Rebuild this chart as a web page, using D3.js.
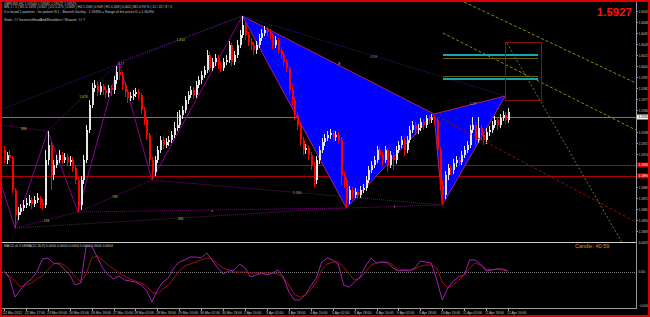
<!DOCTYPE html>
<html>
<head>
<meta charset="utf-8">
<script src="https://cdn.jsdelivr.net/npm/d3@7"></script>
<style>
html, body { margin: 0; padding: 0; background: #000; }
svg { display: block; font-family: "Liberation Sans", Arial, sans-serif; }
</style>
</head>
<body>
<div id="chart"></div>
<script>
// GBPUSD H1, one entry per candle (every candle ~ 2 hourly bars)
var firstOpen = 1.5920;

var closes = [
	1.5910,1.5915,1.5912,1.5880,1.5855,1.5858,1.5862,1.5865,1.5867,1.5870,
	1.5866,1.5870,1.5872,1.5867,1.5865,1.5910,1.5925,1.5895,1.5905,1.5910,
	1.5915,1.5910,1.5913,1.5908,1.5910,1.5902,1.5890,1.5865,1.5890,1.5910,
	1.5940,1.5965,1.5982,1.5985,1.5978,1.5984,1.5980,1.5977,1.5982,1.5980,
	1.5990,1.5998,1.5995,1.5985,1.5978,1.5972,1.5974,1.5976,1.5978,1.5975,
	1.5960,1.5950,1.5935,1.5910,1.5898,1.5910,1.5920,1.5930,1.5925,1.5928,
	1.5930,1.5935,1.5942,1.5945,1.5955,1.5960,1.5970,1.5975,1.5980,1.5975,
	1.5985,1.5990,1.5995,1.6000,1.6015,1.6002,1.6008,1.6012,1.6005,1.6002,
	1.6008,1.6010,1.6025,1.6008,1.6015,1.6025,1.6035,1.6045,1.6035,1.6028,
	1.6025,1.6020,1.6025,1.6032,1.6037,1.6040,1.6038,1.6035,1.6025,1.6030,
	1.6020,1.6015,1.6008,1.6002,1.5980,1.5970,1.5955,1.5945,1.5930,1.5920,
	1.5922,1.5915,1.5905,1.5890,1.5910,1.5920,1.5928,1.5932,1.5935,1.5937,
	1.5933,1.5935,1.5930,1.5895,1.5890,1.5870,1.5880,1.5875,1.5878,1.5875,
	1.5880,1.5882,1.5890,1.5900,1.5905,1.5910,1.5920,1.5915,1.5910,1.5920,
	1.5905,1.5915,1.5910,1.5920,1.5925,1.5930,1.5920,1.5930,1.5940,1.5945,
	1.5940,1.5942,1.5948,1.5945,1.5952,1.5950,1.5952,1.5950,1.5920,1.5885,
	1.5875,1.5895,1.5902,1.5900,1.5907,1.5910,1.5908,1.5915,1.5920,1.5925,
	1.5940,1.5945,1.5930,1.5942,1.5935,1.5930,1.5938,1.5940,1.5945,1.5950,
	1.5945,1.5952,1.5955,1.5950,1.5958
];

var highs = [
	1.5924,1.5918,1.5920,1.5914,1.5882,1.5863,1.5866,1.5870,1.5872,1.5875,
	1.5873,1.5874,1.5877,1.5874,1.5871,1.5920,1.5939,1.5928,1.5910,1.5915,
	1.5920,1.5918,1.5917,1.5916,1.5914,1.5913,1.5905,1.5893,1.5894,1.5915,
	1.5945,1.5970,1.5987,1.5990,1.5988,1.5988,1.5986,1.5983,1.5985,1.5985,
	1.5994,1.6004,1.6008,1.5998,1.5988,1.5981,1.5978,1.5980,1.5982,1.5981,
	1.5977,1.5963,1.5952,1.5937,1.5913,1.5914,1.5924,1.5934,1.5933,1.5932,
	1.5934,1.5939,1.5948,1.5958,1.5960,1.5964,1.5974,1.5979,1.5984,1.5983,
	1.5989,1.5994,1.5999,1.6004,1.6020,1.6018,1.6012,1.6016,1.6015,1.6008,
	1.6012,1.6015,1.6029,1.6027,1.6019,1.6030,1.6040,1.6054,1.6048,1.6038,
	1.6032,1.6028,1.6029,1.6036,1.6041,1.6044,1.6043,1.6041,1.6037,1.6034,
	1.6032,1.6023,1.6018,1.6011,1.6004,1.5984,1.5973,1.5958,1.5948,1.5933,
	1.5926,1.5925,1.5918,1.5908,1.5914,1.5924,1.5932,1.5936,1.5939,1.5941,
	1.5940,1.5939,1.5938,1.5933,1.5898,1.5893,1.5884,1.5883,1.5882,1.5881,
	1.5884,1.5886,1.5894,1.5904,1.5909,1.5914,1.5924,1.5923,1.5918,1.5924,
	1.5922,1.5919,1.5918,1.5924,1.5929,1.5934,1.5932,1.5934,1.5944,1.5949,
	1.5948,1.5946,1.5952,1.5951,1.5955,1.5955,1.5956,1.5956,1.5952,1.5923,
	1.5890,1.5899,1.5906,1.5905,1.5911,1.5914,1.5913,1.5919,1.5924,1.5929,
	1.5945,1.5953,1.5948,1.5953,1.5945,1.5938,1.5942,1.5944,1.5949,1.5954,
	1.5953,1.5956,1.5959,1.5958,1.5962
];

var lows = [
	1.5907,1.5906,1.5909,1.5877,1.5842,1.5850,1.5855,1.5859,1.5862,1.5864,
	1.5861,1.5863,1.5867,1.5862,1.5860,1.5862,1.5905,1.5880,1.5890,1.5902,
	1.5907,1.5906,1.5907,1.5904,1.5904,1.5898,1.5886,1.5858,1.5860,1.5886,
	1.5907,1.5937,1.5962,1.5978,1.5974,1.5975,1.5975,1.5972,1.5973,1.5974,
	1.5976,1.5986,1.5990,1.5980,1.5973,1.5967,1.5969,1.5970,1.5973,1.5971,
	1.5956,1.5945,1.5930,1.5905,1.5890,1.5894,1.5907,1.5917,1.5921,1.5922,
	1.5924,1.5927,1.5932,1.5939,1.5942,1.5951,1.5957,1.5966,1.5972,1.5971,
	1.5972,1.5982,1.5986,1.5992,1.5997,1.5998,1.5999,1.6004,1.6001,1.5998,
	1.5999,1.6005,1.6007,1.6004,1.6005,1.6012,1.6022,1.6032,1.6030,1.6024,
	1.6020,1.6015,1.6016,1.6022,1.6029,1.6034,1.6034,1.6031,1.6021,1.6022,
	1.6016,1.6011,1.6004,1.5998,1.5975,1.5965,1.5950,1.5940,1.5924,1.5915,
	1.5916,1.5910,1.5900,1.5883,1.5886,1.5906,1.5917,1.5924,1.5929,1.5931,
	1.5929,1.5929,1.5926,1.5885,1.5882,1.5862,1.5866,1.5871,1.5872,1.5871,
	1.5872,1.5877,1.5879,1.5887,1.5897,1.5902,1.5907,1.5910,1.5904,1.5907,
	1.5898,1.5902,1.5900,1.5906,1.5917,1.5922,1.5914,1.5917,1.5927,1.5937,
	1.5935,1.5936,1.5939,1.5940,1.5942,1.5946,1.5947,1.5944,1.5914,1.5880,
	1.5865,1.5871,1.5890,1.5895,1.5896,1.5903,1.5904,1.5905,1.5912,1.5917,
	1.5922,1.5937,1.5924,1.5927,1.5930,1.5925,1.5926,1.5934,1.5937,1.5942,
	1.5940,1.5942,1.5949,1.5946,1.5947
];

// MACD of DEMA, one value every second candle
var macdMain = [
	0.0001,-0.0006,-0.0025,-0.0018,-0.0011,-0.0007,0.0000,0.0013,0.0014,0.0009,
	0.0008,0.0003,-0.0003,-0.0013,-0.0011,0.0026,0.0026,0.0015,0.0004,-0.0003,
	-0.0007,-0.0004,-0.0008,-0.0009,-0.0010,-0.0013,-0.0018,-0.0030,-0.0018,-0.0010,
	-0.0006,0.0004,0.0010,0.0012,0.0015,0.0015,0.0014,0.0019,0.0012,0.0004,
	-0.0002,0.0001,0.0002,0.0008,0.0004,-0.0005,-0.0003,-0.0001,-0.0003,-0.0001,
	0.0002,-0.0005,-0.0020,-0.0028,-0.0028,-0.0023,-0.0014,-0.0006,0.0010,0.0014,
	0.0012,0.0008,-0.0013,-0.0015,-0.0010,-0.0005,0.0006,0.0014,0.0009,0.0010,
	0.0009,0.0004,0.0001,0.0002,0.0001,0.0004,0.0011,0.0010,0.0009,-0.0008,
	-0.0028,-0.0016,-0.0009,-0.0005,-0.0003,0.0012,0.0012,0.0008,0.0001,0.0002,
	0.0003,0.0003,0.0001
];
var macdSignal = [
	0.0000,-0.0004,-0.0009,-0.0015,-0.0013,-0.0011,-0.0007,-0.0004,0.0002,0.0008,
	0.0009,0.0007,0.0002,-0.0005,-0.0010,-0.0002,0.0014,0.0016,0.0012,0.0007,
	0.0003,-0.0001,-0.0004,-0.0007,-0.0009,-0.0011,-0.0014,-0.0020,-0.0022,-0.0017,
	-0.0013,-0.0006,0.0001,0.0006,0.0008,0.0010,0.0012,0.0014,0.0013,0.0008,
	0.0004,0.0002,0.0000,0.0000,0.0000,-0.0001,-0.0001,-0.0001,-0.0001,-0.0001,
	-0.0002,-0.0006,-0.0013,-0.0022,-0.0025,-0.0023,-0.0018,-0.0010,0.0002,0.0008,
	0.0010,0.0010,0.0005,-0.0002,-0.0008,-0.0006,0.0000,0.0007,0.0009,0.0010,
	0.0010,0.0007,0.0002,0.0002,0.0002,0.0003,0.0006,0.0007,0.0007,0.0004,
	-0.0010,-0.0016,-0.0013,-0.0008,-0.0003,0.0004,0.0009,0.0007,0.0003,0.0002,
	0.0003,0.0002,0.0001
];

// zigzag pivots (candle index, price)
var zigIdx = [-1.5, 4, 16, 27, 42, 54, 87];
var zigPrice = [1.5890, 1.5842, 1.5939, 1.5858, 1.6008, 1.5890, 1.6054];

// harmonic pattern X A B C D
var patIdx = [87, 125, 157, 160, 183];
var patPrice = [1.6054, 1.5862, 1.5956, 1.5865, 1.5974];

// dotted ratio lines: idx1, price1, idx2, price2, label, kind
var ratioLines = [
	[-1.5, 1.5960, 87, 1.6054, "1.27", "navy"],
	[-1.5, 1.5945, 16, 1.5939, "886", "purple"],
	[16, 1.5939, 42, 1.6008, "1.618", "purple"],
	[4, 1.5842, 27, 1.5858, "236", "purple"],
	[27, 1.5858, 54, 1.5890, "786", "purple"],
	[42, 1.6008, 87, 1.6054, "1.414", "purple"],
	[4, 1.5842, 125, 1.5862, "384", "purple"],
	[27, 1.5858, 125, 1.5862, "x", "purple"],
	[54, 1.5890, 160, 1.5865, "1.130", "purple"],
	[125, 1.5862, 160, 1.5865, "1", "purple"],
	[87, 1.6054, 183, 1.5974, "0.59", "navy"]
];

// projection objects on the right
var olive1 = [168, 1.6068, 230.7, 1.5987];
var olive2 = [160.2, 1.6037, 230.7, 1.5940];
var greenLine = [183.6, 1.6027, 225.5, 1.5828];
var redTrend = [156.6, 1.5956, 230.7, 1.5848];
var targetBox = [182.8, 1.6028, 195.9, 1.5970];
var tealLevels = [1.6015, 1.5991];
var oliveLevels = [1.6012, 1.5994];
var levelStart = 160.2, levelEnd = 194.9;

var redLevels = [1.5905, 1.5894];
var bidPrice = 1.5953;

var priceTicks = [1.6059,1.6048,1.6037,1.6026,1.6015,1.6004,1.5993,1.5982,1.5971,1.5960,
	1.5938,1.5927,1.5916,1.5883,1.5872,1.5861,1.5850,1.5839];
var macdTicks = [0.0029, 0, -0.0034];

var timeLabels = ["22 Mar 2012","22 Mar 17:00","23 Mar 09:00","26 Mar 01:00","26 Mar 18:00",
	"27 Mar 10:00","28 Mar 02:00","28 Mar 18:00","29 Mar 10:00","30 Mar 02:00","30 Mar 18:00",
	"2 Apr 10:00","3 Apr 02:00","3 Apr 18:00","4 Apr 10:00","5 Apr 02:00","5 Apr 18:00",
	"6 Apr 10:00","9 Apr 02:00","9 Apr 18:00","10 Apr 10:00","11 Apr 02:00","11 Apr 18:00","12 Apr 10:00"];

var headerLines = [
	"GBPUSD,H1  1.59540 1.59585 1.59527 1.59525",
	"MN 1 / 1 | W1 0.1393 | 0.807 | D1 0.475 | 0.809 | H4 1.208 | 0.949 | H1 0.208 | 0.402 | M1 0.93 % | 11 / 22 / 8 / 3",
	"It is found 1 patterns  -  for pattern N 1 - Bearish Gartley - 1.59490 = Range of the prices D = 1.60290",
	"Static: ##   IncorrectHeadAndShoulders / Shoarm: ##   ?"
];

var upColor = "#e6e6e6",
	downColor = "#ff0000",
	axisColor = "#9a9a9a",
	textColor = "#c8c8c8",
	tinyFont = 3.4;

var svg, x, y, yMacd;

function onLoad() {
	svg = d3.select("#chart")
		.append("svg")
		.attr("width", 650)
		.attr("height", 317);

	svg.append("rect").attr("width", 650).attr("height", 317).attr("fill", "#000");

	x = d3.scaleLinear().domain([0, 184]).range([4, 508]);
	y = d3.scaleLinear().domain([1.5838, 1.6060]).range([232, 10]);
	yMacd = d3.scaleLinear().domain([-0.0034, 0.0029]).range([306, 243]);

	drawLevels();
	drawPattern();
	drawRatioLines();
	drawZigzag();
	drawCandles();
	drawProjection();
	drawMacd();
	drawAxes();
	drawTexts();
	drawFrame();
}

///////////////////////////////////
////////////DRAWING////////////////
///////////////////////////////////

function seg(g, x1, y1, x2, y2, color, dash, width) {
	return g.append("line")
		.attr("x1", x1).attr("y1", y1)
		.attr("x2", x2).attr("y2", y2)
		.attr("stroke", color)
		.attr("stroke-width", width || 1)
		.attr("stroke-dasharray", dash || null);
}

function tiny(xx, yy, t, color, anchor) {
	return svg.append("text")
		.attr("x", xx).attr("y", yy)
		.attr("font-size", tinyFont)
		.attr("text-anchor", anchor || "start")
		.attr("fill", color || textColor)
		.text(t);
}

function drawLevels() {
	var g = svg.append("g").attr("shape-rendering", "crispEdges");
	redLevels.forEach(function(p) {
		seg(g, 2, Math.round(y(p)) + 0.5, 636, Math.round(y(p)) + 0.5, "#b00000");
	});
	seg(g, 2, Math.round(y(bidPrice)) + 0.5, 636, Math.round(y(bidPrice)) + 0.5, "#6e7480");
}

function drawPattern() {
	var pts = patIdx.map(function(d, i) { return [x(d), y(patPrice[i])]; });
	var line = d3.line();
	svg.append("path")
		.attr("d", line([pts[0], pts[1], pts[2]]) + "Z")
		.attr("fill", "#0000ff")
		.attr("stroke", "#b0206a")
		.attr("stroke-width", 1);
	svg.append("path")
		.attr("d", line([pts[2], pts[3], pts[4]]) + "Z")
		.attr("fill", "#0000ff")
		.attr("stroke", "#b0206a")
		.attr("stroke-width", 1);
	// labels on the pattern edges
	tiny((pts[0][0] + pts[2][0]) / 2, (pts[0][1] + pts[2][1]) / 2, "B", "#b0b0b0");
	tiny((pts[2][0] + pts[4][0]) / 2, (pts[2][1] + pts[4][1]) / 2, "1.27", "#b0b0b0");
}

function drawRatioLines() {
	var g = svg.append("g");
	ratioLines.forEach(function(r) {
		var x1 = x(r[0]), y1 = y(r[1]), x2 = x(r[2]), y2 = y(r[3]);
		var col = r[5] === "navy" ? "#1c1c80" : "#6a0f6a";
		seg(g, x1, y1, x2, y2, col, "1,1");
		tiny((x1 + x2) / 2, (y1 + y2) / 2 + 1.5, r[4],
			r[5] === "navy" ? "#a0a0a0" : "#9acd32", "middle");
	});
}

function drawZigzag() {
	var pts = zigIdx.map(function(d, i) { return [x(d), y(zigPrice[i])]; });
	svg.append("path")
		.attr("d", d3.line()(pts))
		.attr("fill", "none")
		.attr("stroke", "#8b008b")
		.attr("stroke-width", 1);
}

function drawCandles() {
	var opens = [firstOpen].concat(closes.slice(0, -1));
	var g = svg.append("g").attr("shape-rendering", "crispEdges");
	closes.forEach(function(c, i) {
		var o = opens[i];
		var col = c >= o ? upColor : downColor;
		var cx = Math.round(x(i));
		seg(g, cx + 0.5, y(highs[i]), cx + 0.5, y(lows[i]), col);
		var top = y(Math.max(o, c)), bot = y(Math.min(o, c));
		g.append("rect")
			.attr("x", cx)
			.attr("y", top)
			.attr("width", 2)
			.attr("height", Math.max(1, bot - top))
			.attr("fill", col);
	});
}

function drawProjection() {
	var g = svg.append("g");
	seg(g, x(olive1[0]), y(olive1[1]), x(olive1[2]), y(olive1[3]), "#8a8a12", "3,2");
	seg(g, x(olive2[0]), y(olive2[1]), x(olive2[2]), y(olive2[3]), "#8a8a12", "3,2");
	seg(g, x(redTrend[0]), y(redTrend[1]), x(redTrend[2]), y(redTrend[3]), "#8a0f0f", "3,2");
	seg(g, x(greenLine[0]), y(greenLine[1]), x(greenLine[2]), y(greenLine[3]), "#4c8a1c", "2,2");

	var h = svg.append("g").attr("shape-rendering", "crispEdges");
	oliveLevels.forEach(function(p) {
		seg(h, x(levelStart), Math.round(y(p)) + 0.5, x(levelEnd), Math.round(y(p)) + 0.5, "#6a5a10");
	});
	tealLevels.forEach(function(p) {
		seg(h, x(levelStart), Math.round(y(p)), x(levelEnd), Math.round(y(p)), "#10a8a8", null, 2);
	});
	h.append("rect")
		.attr("x", Math.round(x(targetBox[0])) + 0.5)
		.attr("y", Math.round(y(targetBox[1])) + 0.5)
		.attr("width", Math.round(x(targetBox[2]) - x(targetBox[0])))
		.attr("height", Math.round(y(targetBox[3]) - y(targetBox[1])))
		.attr("fill", "none")
		.attr("stroke", "#8a1010");
}

function drawMacd() {
	var g = svg.append("g");
	seg(g, 2, yMacd(0), 636, yMacd(0), "#7a7a7a", "1,1").attr("shape-rendering", "crispEdges");
	var line = d3.line()
		.x(function(d, k) { return x(2 * k); })
		.y(function(d) { return yMacd(d); });
	g.append("path").attr("d", line(macdSignal)).attr("fill", "none").attr("stroke", "#a01010").attr("stroke-width", 1);
	g.append("path").attr("d", line(macdMain)).attr("fill", "none").attr("stroke", "#a020b0").attr("stroke-width", 1);
}

function drawAxes() {
	var g = svg.append("g").attr("shape-rendering", "crispEdges");
	seg(g, 636.5, 2, 636.5, 309, axisColor);
	seg(g, 2, 242.5, 636, 242.5, "#d0d0d0");
	seg(g, 2, 308.5, 636, 308.5, axisColor);

	var fmt = d3.format(".5f");
	priceTicks.forEach(function(p) {
		var yy = Math.round(y(p)) + 0.5;
		seg(g, 636, yy, 638, yy, axisColor);
		tiny(638.5, yy + 1.2, fmt(p));
	});
	redLevels.forEach(function(p) {
		var yy = Math.round(y(p));
		svg.append("rect").attr("x", 637).attr("y", yy - 2.5).attr("width", 12).attr("height", 5).attr("fill", "#d00000");
		tiny(638.5, yy + 1.2, fmt(p), "#fff");
	});
	var by = Math.round(y(bidPrice));
	svg.append("rect").attr("x", 637).attr("y", by - 2.5).attr("width", 12).attr("height", 5).attr("fill", "#f0f0f0");
	tiny(638.5, by + 1.2, fmt(bidPrice), "#000");

	macdTicks.forEach(function(v) {
		tiny(638.5, yMacd(v) + 1.2, v === 0 ? "0.00" : d3.format(".4f")(v));
	});

	timeLabels.forEach(function(t, k) {
		var xx = Math.round(x(8 * k)) + 0.5;
		seg(g, xx, 308, xx, 311, axisColor);
		tiny(xx - 1.5, 313.5, t);
	});
}

function drawTexts() {
	var ys = [4.5, 8, 12.5, 20.5];
	headerLines.forEach(function(t, i) {
		tiny(4, ys[i], t);
	});
	svg.append("text").attr("x", 632).attr("y", 16)
		.attr("text-anchor", "end")
		.attr("font-size", 11.5).attr("font-weight", "bold")
		.attr("fill", "#ff1010").text("1.5927");
	tiny(4, 247, "MACD of 3 DEMA(12,26,9) 0.0000 0.0000 0.0004 0.0004 0.0004 0.0004");
	svg.append("text").attr("x", 575).attr("y", 247.5)
		.attr("font-size", 5.5).attr("fill", "#e08a10").text("Candle:  40:59");
}

function drawFrame() {
	svg.append("rect")
		.attr("x", 1).attr("y", 1).attr("width", 648).attr("height", 315)
		.attr("fill", "none").attr("stroke", "#e00000").attr("stroke-width", 2);
}

onLoad();
</script>
</body>
</html>
